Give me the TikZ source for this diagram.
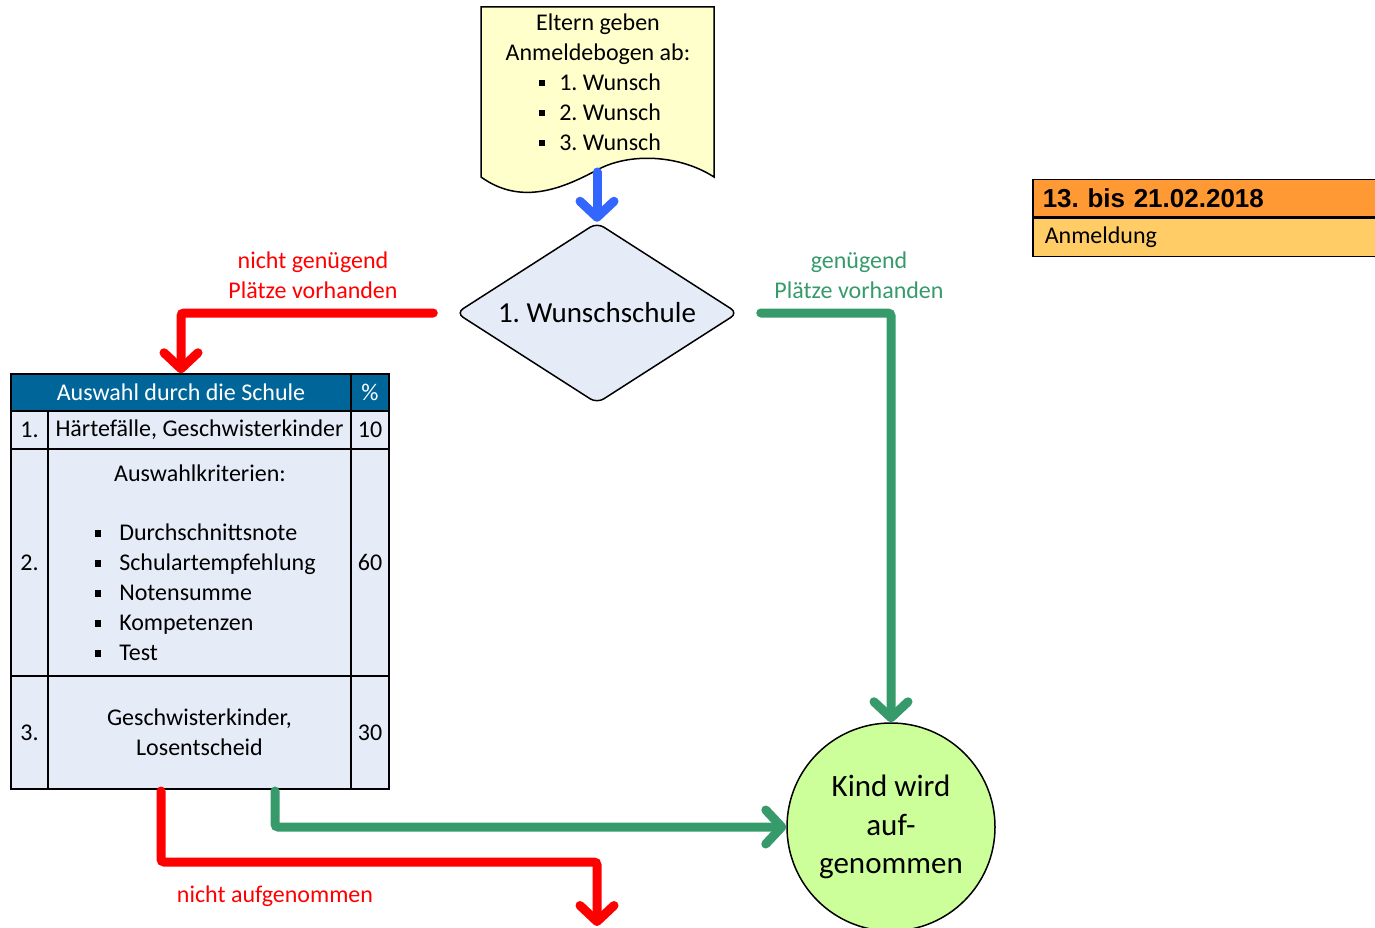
\documentclass[tikz,border=0pt]{standalone}
\usepackage{fontspec}
\setmainfont{Carlito}
\newfontfamily\datumfont{Liberation Sans}
\usetikzlibrary{arrows.meta, shapes.geometric}
\definecolor{pfeilblau}{RGB}{51,102,255}
\definecolor{pfeilgruen}{RGB}{54,154,106}
\definecolor{kopfblau}{RGB}{0,102,153}
\definecolor{zellgrau}{RGB}{230,236,247}
\definecolor{bogengelb}{RGB}{255,255,204}
\definecolor{kreisgruen}{RGB}{204,255,153}
\definecolor{datumorange}{RGB}{255,153,51}
\definecolor{phasegelb}{RGB}{255,204,102}
\newcommand{\qpunkt}{\rule[0.16em]{0.28em}{0.28em}}
\frenchspacing

\begin{document}
\begin{tikzpicture}[x=1pt, y=-1pt, >={Straight Barb[round, length=16pt, width=34pt]},
  every node/.style={font=\fontsize{24}{30}\selectfont},
  pfeil/.style={->, line width=9pt, line cap=round, rounded corners=3pt},
  zelle/.style={draw, line width=1.5pt, fill=zellgrau, inner sep=0pt, align=center}]
  \useasboundingbox (0,0) rectangle (1375,928);
  \draw[line width=1.5pt, fill=bogengelb] (481,7) -- (714,7) -- (714,177) .. controls (680,155) and (630,152) .. (597,170) .. controls (560,190) and (520,205) .. (481,177) -- cycle;
  \node[align=center] (eltern) at (598,39) {Eltern geben\\Anmeldebogen ab:};
  \node[anchor=west, align=left] (wuensche) at (535,112) {\qpunkt\hspace{14pt}1. Wunsch\\\qpunkt\hspace{14pt}2. Wunsch\\\qpunkt\hspace{14pt}3. Wunsch};
  \coordinate (bogenfuss) at (597,172);
  \node[diamond, aspect=1.56, draw, line width=1.5pt, fill=zellgrau, rounded corners=8pt, inner sep=0pt, minimum width=282pt, minimum height=181pt, font=\fontsize{29}{35}\selectfont] (wahl) at (597,313) {1. Wunschschule};
  \node[draw, line width=1.5pt, fill=datumorange, anchor=north west, minimum height=37pt, text width=350pt, inner xsep=10pt, align=left, font=\datumfont\bfseries\fontsize{26}{30}\selectfont] (datum) at (1032,179) {13. bis 21.02.2018};
  \node[draw, line width=1.5pt, fill=phasegelb, anchor=north west, minimum height=38pt, text width=350pt, inner xsep=12pt, align=left] (phase) at (datum.south west) {Anmeldung};
  \node[zelle, fill=kopfblau, text=white, minimum width=340pt, minimum height=37pt] (kopf) at (181,392.5) {Auswahl durch die Schule};
  \node[zelle, fill=kopfblau, text=white, minimum width=38pt, minimum height=37pt] (kopfp) at (370,392.5) {\%};
  \node[zelle, minimum width=37pt, minimum height=38pt] (n1) at (29.5,430) {1.};
  \node[zelle, minimum width=303pt, minimum height=38pt] (t1) at (199.5,430) {Härtefälle, Geschwisterkinder};
  \node[zelle, minimum width=38pt, minimum height=38pt] (p1) at (370,430) {10};
  \node[zelle, minimum width=37pt, minimum height=227pt] (n2) at (29.5,562.5) {2.};
  \node[zelle, minimum width=303pt, minimum height=227pt] (t2) at (199.5,562.5) {};
  \node[zelle, minimum width=38pt, minimum height=227pt] (p2) at (370,562.5) {60};
  \node (krit) at (200,473) {Auswahlkriterien:};
  \node[anchor=west, align=left] (kritliste) at (91,592.5) {\qpunkt\hspace{18pt}Durchschnittsnote\\\qpunkt\hspace{18pt}Schulartempfehlung\\\qpunkt\hspace{18pt}Notensumme\\\qpunkt\hspace{18pt}Kompetenzen\\\qpunkt\hspace{18pt}Test};
  \node[zelle, minimum width=37pt, minimum height=113pt] (n3) at (29.5,732.5) {3.};
  \node[zelle, minimum width=303pt, minimum height=113pt] (t3) at (199.5,732.5) {Geschwisterkinder,\\Losentscheid};
  \node[zelle, minimum width=38pt, minimum height=113pt] (p3) at (370,732.5) {30};
  \node[circle, draw, line width=1.5pt, fill=kreisgruen, minimum size=208pt, inner sep=0pt, align=center, font=\fontsize{31}{38.5}\selectfont] (kind) at (891,827) {Kind wird\\auf-\\genommen};
  \node[red, align=center] (zuwenig) at (313,275) {nicht genügend\\Plätze vorhanden};
  \node[pfeilgruen, align=center] (genug) at (859,275) {genügend\\Plätze vorhanden};
  \node[red] (abgelehnt) at (275,896) {nicht aufgenommen};
  \coordinate (abA) at (161,791);
  \coordinate (abB) at (275,791);
  \coordinate (raus) at (597,926);
  \draw[pfeil, pfeilblau] (bogenfuss) -- (wahl.north);
  \draw[pfeil, red] ([xshift=-22pt]wahl.west) -| (kopf.north);
  \draw[pfeil, pfeilgruen] ([xshift=22pt]wahl.east) -| (kind.north);
  \draw[pfeil, red] (abA) -- ++(0,71) -| (raus);
  \draw[pfeil, pfeilgruen] (abB) |- (kind.west);
\end{tikzpicture}
\end{document}
